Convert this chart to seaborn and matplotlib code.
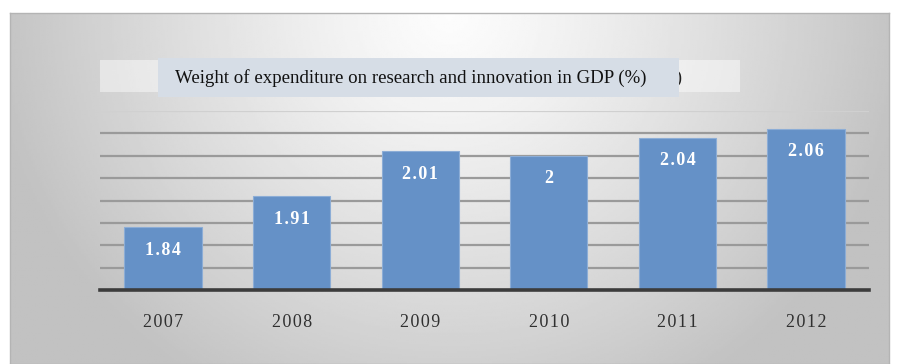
import numpy as np
import pandas as pd
import seaborn as sns
import matplotlib.pyplot as plt
from matplotlib.patches import Rectangle

years = ['2007', '2008', '2009', '2010', '2011', '2012']
values = [1.84, 1.91, 2.01, 2.00, 2.04, 2.06]
value_labels = ['1.84', '1.91', '2.01', '2', '2.04', '2.06']
title = 'Weight of expenditure on research and innovation in GDP (%)'

df = pd.DataFrame({'Year': years, 'Share': values})

sns.set_style('white')
plt.rcParams['font.family'] = ['Liberation Serif', 'DejaVu Serif']

W, H = 912, 364
fig = plt.figure(figsize=(W / 100, H / 100), dpi=100)
fig.patch.set_facecolor('white')

def fx(px):
    return px / W

def fy(py):
    return 1 - py / H

def spaced(s):
    # the original labels have a slight letter spacing
    return '\u200a'.join(s)

# gradient backdrop of the chart frame
bg = fig.add_axes([fx(10), fy(364), fx(889) - fx(10), fy(13) - fy(364)])
gx, gy = np.meshgrid(np.linspace(-1, 1, 400), np.linspace(0, 1, 200))
dist = np.sqrt((gx / 1.05) ** 2 + (gy / 1.25) ** 2)
shade = 0.99 - 0.23 * np.clip(dist, 0, 1) ** 1.2
bg.imshow(shade, cmap='gray', vmin=0, vmax=1, aspect='auto', extent=[0, 1, 0, 1], origin='upper')
bg.set_xticks([])
bg.set_yticks([])
for s in bg.spines.values():
    s.set_color('#b4b4b4')
    s.set_linewidth(1.0)

# title boxes
fig.patches.append(Rectangle((fx(100), fy(92)), fx(740) - fx(100), fy(60) - fy(92),
                             transform=fig.transFigure, facecolor='white', alpha=0.45,
                             edgecolor='none', zorder=2))
fig.text(fx(654), fy(78), '(%)', fontsize=13.5, color='#202020', va='center', ha='left', zorder=3)
fig.patches.append(Rectangle((fx(158), fy(97)), fx(679) - fx(158), fy(58) - fy(97),
                             transform=fig.transFigure, facecolor='#d6dde6',
                             edgecolor='none', zorder=4))
fig.text(fx(175), fy(78), title, fontsize=13.6, color='#111111', va='center', ha='left', zorder=5)

# bars
ax = fig.add_axes([fx(100), fy(290), fx(869) - fx(100), fy(111) - fy(290)])
ax.patch.set_alpha(0)
sns.barplot(data=df, x='Year', y='Share', color='#6591c7', saturation=1, width=0.6,
            edgecolor='#8cadd6', linewidth=0.8, ax=ax, zorder=3)
ax.set_ylim(1.70, 2.10)
ax.set_xlim(-0.49, 5.49)
ax.set_yticks(np.arange(1.75, 2.101, 0.05))
ax.set_yticklabels([])
ax.yaxis.grid(True, color='#9a9a9a', linewidth=1.6, zorder=1)
ax.set_axisbelow(True)
ax.get_ygridlines()[-1].set_color('#d0d0d0')
ax.set_xlabel('')
ax.set_ylabel('')
for s in ['left', 'right', 'top']:
    ax.spines[s].set_visible(False)
ax.spines['bottom'].set_color('#3c3c3c')
ax.spines['bottom'].set_linewidth(2.6)
ax.spines['bottom'].set_zorder(5)
ax.tick_params(axis='both', length=0)
ax.set_xticks(range(len(years)))
ax.set_xticklabels([spaced(y) for y in years])
ax.tick_params(axis='x', pad=17.5, labelsize=13, labelcolor='#303030')

for i, (v, t) in enumerate(zip(values, value_labels)):
    ax.annotate(spaced(t), (i, v), xytext=(0, -23), textcoords='offset pixels', ha='center',
                va='center', fontsize=13, fontweight='bold', color='white', zorder=6)

fig.savefig('out.png', dpi=100)
